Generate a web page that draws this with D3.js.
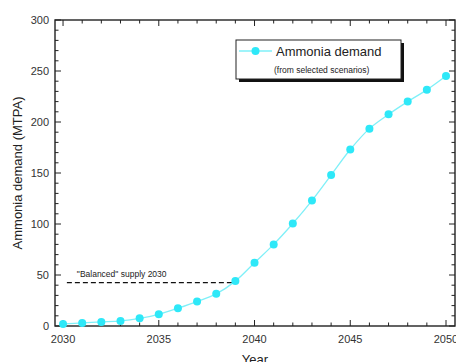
<!DOCTYPE html>
<html>
<head>
<meta charset="utf-8">
<script src="https://cdn.jsdelivr.net/npm/d3@7"></script>
<style>
  body { margin: 0; background: #fff; }
  text { font-family: "Liberation Sans", Arial, sans-serif; }
</style>
</head>
<body>
<div id="chart"></div>
<script>
// Data
const years = [2030, 2031, 2032, 2033, 2034, 2035, 2036, 2037, 2038, 2039, 2040,
               2041, 2042, 2043, 2044, 2045, 2046, 2047, 2048, 2049, 2050];
const demand = [2, 3, 4, 5, 7.5, 11.5, 17.5, 24, 31.5, 44, 62,
                80, 100.5, 123, 148, 173, 193.5, 207.5, 220, 231.5, 245];
const balancedSupply = 42.5;
const balancedYears = [2030.2, 2038.9];
const xTicks = [2030, 2035, 2040, 2045, 2050];
const yTicks = [0, 50, 100, 150, 200, 250, 300];

const width = 456, height = 362;
const margin = {left: 55, top: 20, right: 1, bottom: 36};

const svg = d3.select('#chart').append('svg')
    .attr('width', width)
    .attr('height', height);

const x = d3.scaleLinear()
    .domain([2029.58, 2050.47])
    .range([margin.left, width - margin.right]);
const y = d3.scaleLinear()
    .domain([0, 300])
    .range([height - margin.bottom, margin.top]);

const x0 = x.range()[0], x1 = x.range()[1];
const y0 = y.range()[0], y1 = y.range()[1];

// Frame
svg.append('rect')
    .attr('x', x0).attr('y', y1)
    .attr('width', x1 - x0).attr('height', y0 - y1)
    .attr('fill', 'none').attr('stroke', '#222').attr('stroke-width', 1.4);

// Minor and major ticks (inward, all sides)
const xMinor = d3.range(2030, 2051);
const yMinor = d3.range(0, 301, 10);
const tickG = svg.append('g').attr('stroke', '#222').attr('stroke-width', 1);
xMinor.forEach(v => {
    const len = xTicks.includes(v) ? 6 : 3.5;
    tickG.append('line').attr('x1', x(v)).attr('x2', x(v)).attr('y1', y0).attr('y2', y0 - len);
    tickG.append('line').attr('x1', x(v)).attr('x2', x(v)).attr('y1', y1).attr('y2', y1 + len);
});
yMinor.forEach(v => {
    const len = yTicks.includes(v) ? 6 : 3.5;
    tickG.append('line').attr('y1', y(v)).attr('y2', y(v)).attr('x1', x0).attr('x2', x0 + len);
    tickG.append('line').attr('y1', y(v)).attr('y2', y(v)).attr('x1', x1).attr('x2', x1 - len);
});

// Tick labels
svg.append('g').selectAll('text')
    .data(xTicks).enter().append('text')
    .attr('x', d => x(d)).attr('y', y0 + 17)
    .attr('text-anchor', 'middle')
    .attr('font-size', 11).attr('fill', '#333')
    .text(d => d);
svg.append('g').selectAll('text')
    .data(yTicks).enter().append('text')
    .attr('x', x0 - 6).attr('y', d => y(d) + 4)
    .attr('text-anchor', 'end')
    .attr('font-size', 11).attr('fill', '#333')
    .text(d => d);

// Axis titles
svg.append('text')
    .attr('transform', `translate(22, ${(y0 + y1) / 2}) rotate(-90)`)
    .attr('text-anchor', 'middle')
    .attr('font-size', 13).attr('fill', '#222')
    .text('Ammonia demand (MTPA)');
svg.append('text')
    .attr('x', (x0 + x1) / 2).attr('y', height + 2)
    .attr('text-anchor', 'middle')
    .attr('font-size', 13).attr('fill', '#222')
    .text('Year');

// Balanced supply reference line
svg.append('line')
    .attr('x1', x(balancedYears[0])).attr('x2', x(balancedYears[1]))
    .attr('y1', y(balancedSupply)).attr('y2', y(balancedSupply))
    .attr('stroke', '#111').attr('stroke-width', 1.4)
    .attr('stroke-dasharray', '5,3');
svg.append('text')
    .attr('x', x(balancedYears[0]) + 10).attr('y', y(balancedSupply) - 6)
    .attr('font-size', 8.5).attr('fill', '#222')
    .text('"Balanced" supply 2030');

// Demand series
const pts = years.map((yr, i) => [yr, demand[i]]);
svg.append('path')
    .datum(pts)
    .attr('fill', 'none')
    .attr('stroke', '#7ff0f8')
    .attr('stroke-width', 1.3)
    .attr('d', d3.line().x(d => x(d[0])).y(d => y(d[1])).curve(d3.curveCatmullRom));
svg.append('g').selectAll('circle')
    .data(pts).enter().append('circle')
    .attr('cx', d => x(d[0])).attr('cy', d => y(d[1]))
    .attr('r', 4)
    .attr('fill', '#2ee8f8');

// Legend
const lg = svg.append('g');
lg.append('rect').attr('x', 239).attr('y', 43).attr('width', 165).attr('height', 39).attr('fill', '#111');
lg.append('rect').attr('x', 236).attr('y', 40).attr('width', 165).attr('height', 39)
    .attr('fill', '#fff').attr('stroke', '#222').attr('stroke-width', 1);
lg.append('line').attr('x1', 239).attr('x2', 272).attr('y1', 51).attr('y2', 51)
    .attr('stroke', '#7ff0f8').attr('stroke-width', 1.3);
lg.append('circle').attr('cx', 255.5).attr('cy', 51).attr('r', 4).attr('fill', '#2ee8f8');
lg.append('text').attr('x', 276).attr('y', 56).attr('font-size', 13).attr('fill', '#222')
    .text('Ammonia demand');
lg.append('text').attr('x', 274).attr('y', 73).attr('font-size', 8.5).attr('fill', '#222')
    .text('(from selected scenarios)');
</script>
</body>
</html>
